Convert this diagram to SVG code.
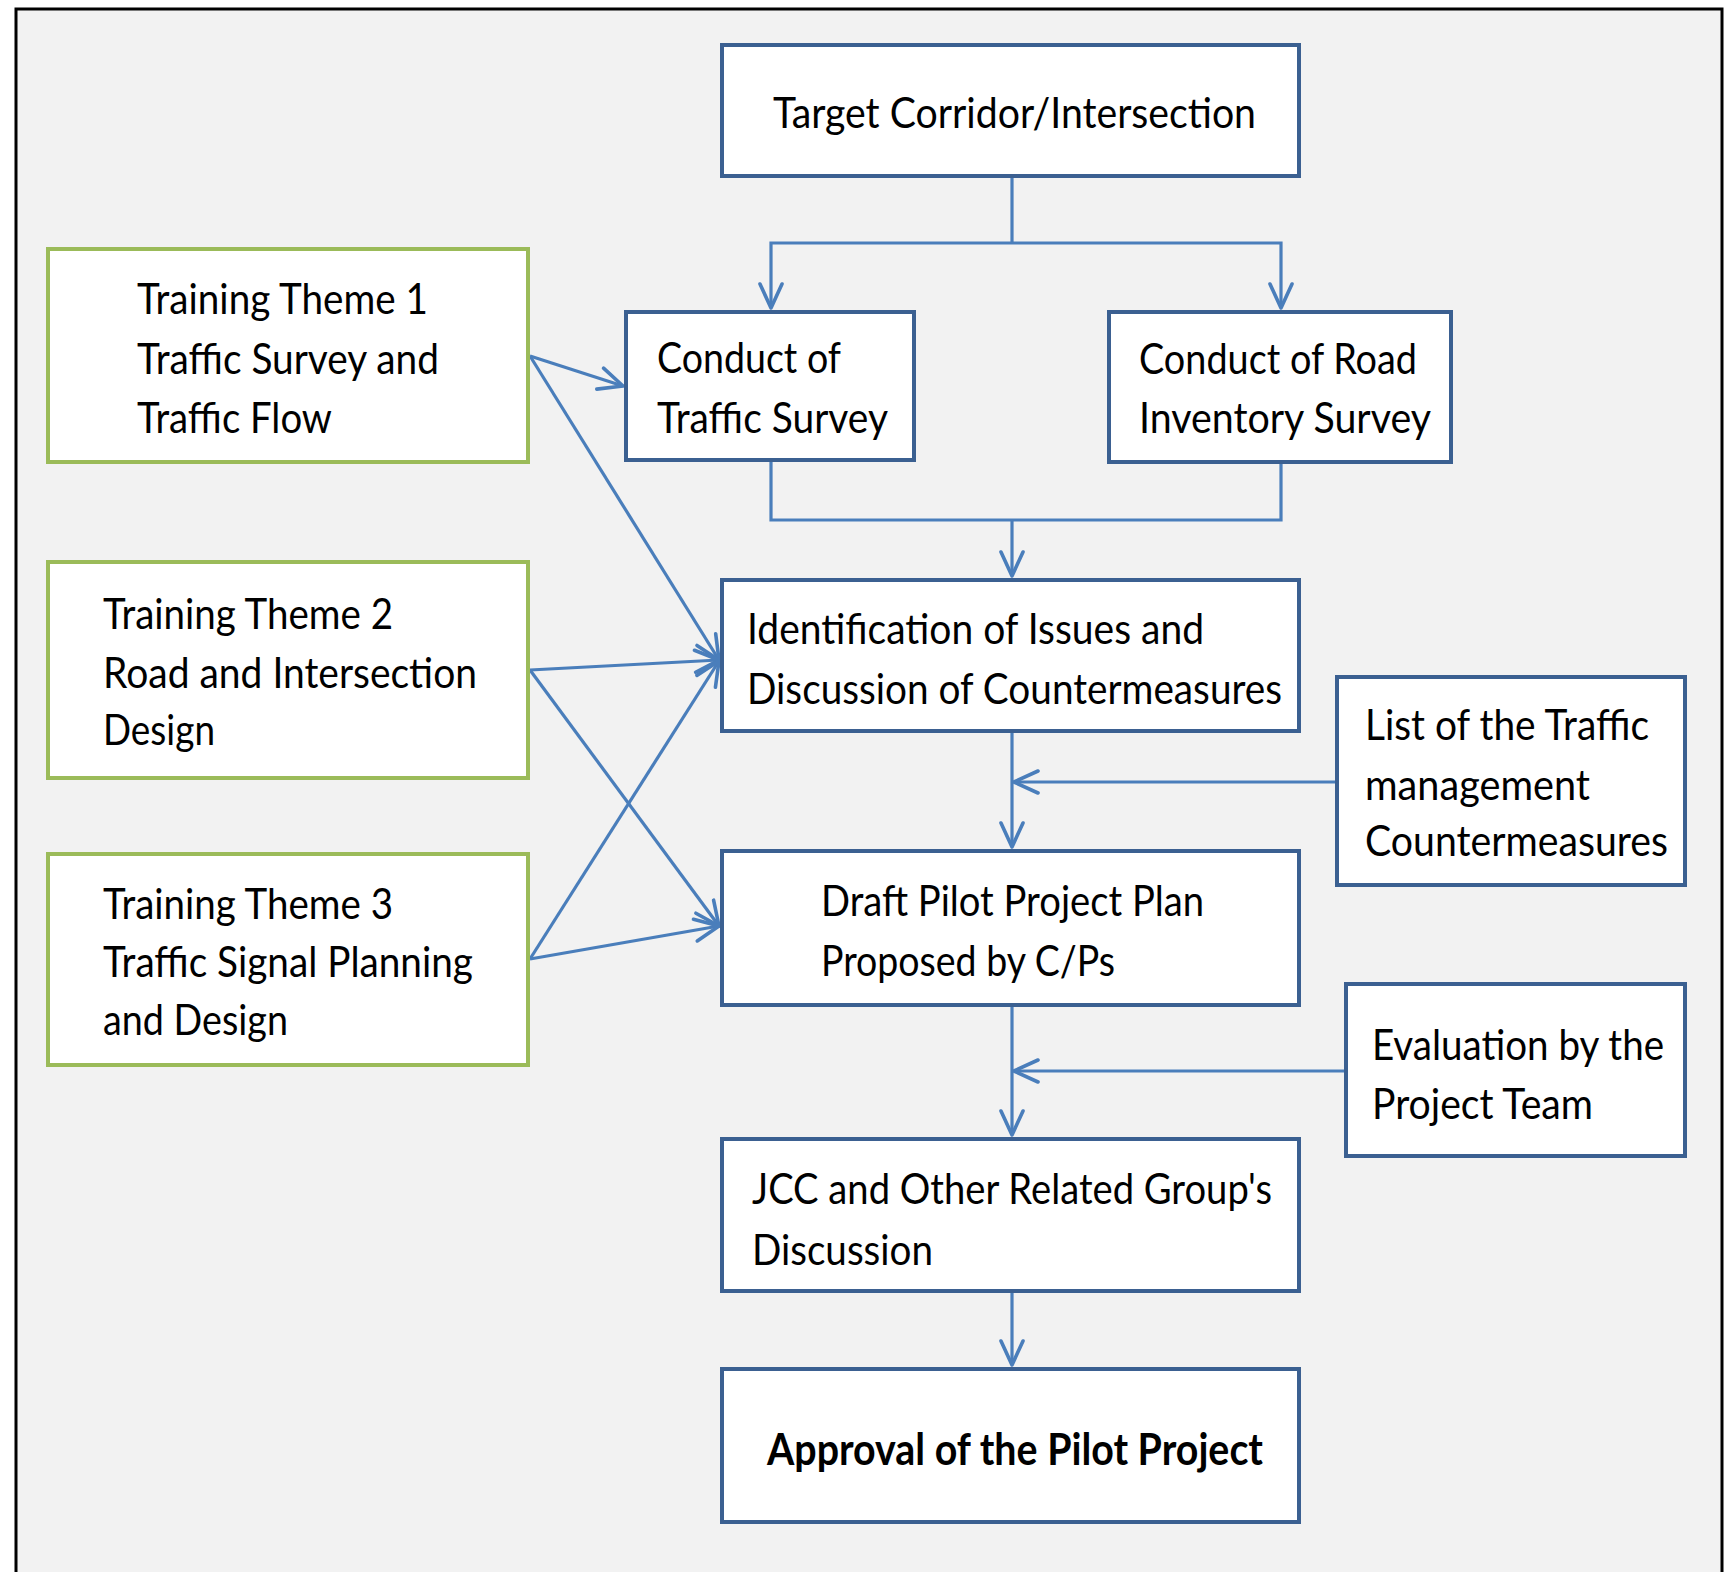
<svg xmlns="http://www.w3.org/2000/svg" width="1729" height="1572" viewBox="0 0 1729 1572">
  <style>
    .box { fill: #ffffff; stroke: #3b6091; stroke-width: 4; }
    .theme { fill: #ffffff; stroke: #9bbb59; stroke-width: 4; }
    .lbl { font-family: Lato, "Liberation Sans", sans-serif; font-size: 43px; fill: #000000; }
    .bold { font-weight: bold; }
    .link { fill: none; stroke: #4a7ebb; stroke-width: 3.2; }
  </style>
  <defs>
    <marker id="arrow" markerUnits="userSpaceOnUse" viewBox="-28 -14 30 28" refX="0" refY="0" markerWidth="30" markerHeight="28" orient="auto">
      <path d="M-24,-11 L0,0 L-24,11" fill="none" stroke="#4a7ebb" stroke-width="3.6" stroke-linecap="round" stroke-linejoin="round"/>
    </marker>
  </defs>

  <!-- page and frame -->
  <rect x="0" y="0" width="1729" height="1572" fill="#ffffff"/>
  <rect x="16" y="9" width="1706" height="1580" fill="#f2f2f2" stroke="#000000" stroke-width="3"/>

  <!-- connectors -->
  <g id="connectors" class="link">
    <path d="M1012,178 V243"/>
    <path d="M1012,243 H771 V308" marker-end="url(#arrow)"/>
    <path d="M1012,243 H1281 V308" marker-end="url(#arrow)"/>
    <path d="M771,462 V520 H1281 V464"/>
    <path d="M1012,520 V576" marker-end="url(#arrow)"/>
    <path d="M1012,733 V847" marker-end="url(#arrow)"/>
    <path d="M1335,782 H1014" marker-end="url(#arrow)"/>
    <path d="M1012,1007 V1135" marker-end="url(#arrow)"/>
    <path d="M1344,1071 H1014" marker-end="url(#arrow)"/>
    <path d="M1012,1293 V1365" marker-end="url(#arrow)"/>
    <path d="M530,356 L623,386" marker-end="url(#arrow)"/>
    <path d="M530,356 L719,660" marker-end="url(#arrow)"/>
    <path d="M530,670 L719,660" marker-end="url(#arrow)"/>
    <path d="M530,959 L719,661" marker-end="url(#arrow)"/>
    <path d="M530,670 L719,926" marker-end="url(#arrow)"/>
    <path d="M530,959 L719,926" marker-end="url(#arrow)"/>
  </g>

  <!-- process steps -->
  <g id="target">
    <rect class="box" x="722" y="45" width="577" height="131"/>
    <text class="lbl" x="773" y="128" textLength="483" lengthAdjust="spacingAndGlyphs">Target Corridor/Intersection</text>
  </g>
  <g id="traffic-survey">
    <rect class="box" x="626" y="312" width="288" height="148"/>
    <text class="lbl" x="657" y="373" textLength="184" lengthAdjust="spacingAndGlyphs">Conduct of</text>
    <text class="lbl" x="657" y="433" textLength="231" lengthAdjust="spacingAndGlyphs">Traffic Survey</text>
  </g>
  <g id="road-inventory">
    <rect class="box" x="1109" y="312" width="342" height="150"/>
    <text class="lbl" x="1139" y="374" textLength="278" lengthAdjust="spacingAndGlyphs">Conduct of Road</text>
    <text class="lbl" x="1139" y="433" textLength="292" lengthAdjust="spacingAndGlyphs">Inventory Survey</text>
  </g>
  <g id="identification">
    <rect class="box" x="722" y="580" width="577" height="151"/>
    <text class="lbl" x="747" y="644" textLength="457" lengthAdjust="spacingAndGlyphs">Identification of Issues and</text>
    <text class="lbl" x="747" y="704" textLength="535" lengthAdjust="spacingAndGlyphs">Discussion of Countermeasures</text>
  </g>
  <g id="draft-plan">
    <rect class="box" x="722" y="851" width="577" height="154"/>
    <text class="lbl" x="821" y="916" textLength="383" lengthAdjust="spacingAndGlyphs">Draft Pilot Project Plan</text>
    <text class="lbl" x="821" y="976" textLength="294" lengthAdjust="spacingAndGlyphs">Proposed by C/Ps</text>
  </g>
  <g id="jcc-discussion">
    <rect class="box" x="722" y="1139" width="577" height="152"/>
    <text class="lbl" x="752" y="1204" textLength="520" lengthAdjust="spacingAndGlyphs">JCC and Other Related Group's</text>
    <text class="lbl" x="752" y="1265" textLength="181" lengthAdjust="spacingAndGlyphs">Discussion</text>
  </g>
  <g id="approval">
    <rect class="box" x="722" y="1369" width="577" height="153"/>
    <text class="lbl bold" x="767" y="1465" textLength="496" lengthAdjust="spacingAndGlyphs">Approval of the Pilot Project</text>
  </g>

  <!-- side inputs -->
  <g id="countermeasure-list">
    <rect class="box" x="1337" y="677" width="348" height="208"/>
    <text class="lbl" x="1365" y="740" textLength="284" lengthAdjust="spacingAndGlyphs">List of the Traffic</text>
    <text class="lbl" x="1365" y="800" textLength="225" lengthAdjust="spacingAndGlyphs">management</text>
    <text class="lbl" x="1365" y="856" textLength="303" lengthAdjust="spacingAndGlyphs">Countermeasures</text>
  </g>
  <g id="evaluation">
    <rect class="box" x="1346" y="984" width="339" height="172"/>
    <text class="lbl" x="1372" y="1060" textLength="292" lengthAdjust="spacingAndGlyphs">Evaluation by the</text>
    <text class="lbl" x="1372" y="1119" textLength="221" lengthAdjust="spacingAndGlyphs">Project Team</text>
  </g>

  <!-- training themes -->
  <g id="theme-1">
    <rect class="theme" x="48" y="249" width="480" height="213"/>
    <text class="lbl" x="137" y="314" textLength="291" lengthAdjust="spacingAndGlyphs">Training Theme 1</text>
    <text class="lbl" x="137" y="374" textLength="302" lengthAdjust="spacingAndGlyphs">Traffic Survey and</text>
    <text class="lbl" x="137" y="433" textLength="195" lengthAdjust="spacingAndGlyphs">Traffic Flow</text>
  </g>
  <g id="theme-2">
    <rect class="theme" x="48" y="562" width="480" height="216"/>
    <text class="lbl" x="103" y="629" textLength="290" lengthAdjust="spacingAndGlyphs">Training Theme 2</text>
    <text class="lbl" x="103" y="688" textLength="374" lengthAdjust="spacingAndGlyphs">Road and Intersection</text>
    <text class="lbl" x="103" y="745" textLength="112" lengthAdjust="spacingAndGlyphs">Design</text>
  </g>
  <g id="theme-3">
    <rect class="theme" x="48" y="854" width="480" height="211"/>
    <text class="lbl" x="103" y="919" textLength="290" lengthAdjust="spacingAndGlyphs">Training Theme 3</text>
    <text class="lbl" x="103" y="977" textLength="370" lengthAdjust="spacingAndGlyphs">Traffic Signal Planning</text>
    <text class="lbl" x="103" y="1035" textLength="185" lengthAdjust="spacingAndGlyphs">and Design</text>
  </g>
</svg>
